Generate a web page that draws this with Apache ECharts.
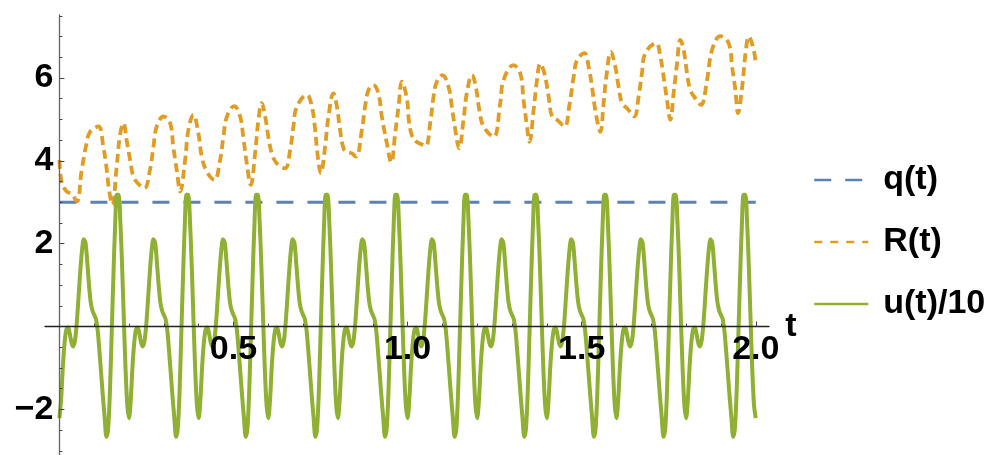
<!DOCTYPE html>
<html><head><meta charset="utf-8">
<script src="https://cdn.jsdelivr.net/npm/echarts@6/dist/echarts.min.js"></script>
<style>html,body{margin:0;padding:0;background:#fff}#c{width:992px;height:455px}</style>
</head><body><div id="c"></div>
<script>
// ---- data ----
const seriesNames = ['q(t)', 'R(t)', 'u(t)/10'];
const xMajorTicks = [0.5, 1.0, 1.5, 2.0];
const xMinorTicks = [0.1,0.2,0.3,0.4,0.6,0.7,0.8,0.9,1.1,1.2,1.3,1.4,1.6,1.7,1.8,1.9];
const yMajorTicks = [-2, 2, 4, 6];
const yMinorTicks = [-3,-2.5,-1.5,-1,-0.5,0.5,1,1.5,2.5,3,3.5,4.5,5,5.5,6.5,7,7.5];

const qT = [0, 2.0];
const qV = [3, 3];

const rT = [0.000,0.007,0.021,0.035,0.050,0.064,0.078,0.088,0.112,0.126,0.136,0.1425,0.152,0.1645,0.174,0.184,0.193,0.203,0.2125,0.225,
0.244,0.260,0.270,0.2795,0.299,0.318,0.327,0.337,0.347,0.361,0.3705,0.385,0.399,0.409,0.423,0.445,0.4615,0.471,0.481,0.502,
0.519,0.528,0.538,0.5497,0.562,0.5716,0.581,0.591,0.600,0.610,0.624,0.648,0.6626,0.672,0.682,0.7106,0.725,0.7345,0.741,0.751,
0.763,0.7727,0.787,0.797,0.806,0.816,0.8256,0.840,0.852,0.8687,0.878,0.8877,0.902,0.916,0.926,0.9405,0.953,0.9644,0.974,0.9836,
0.998,1.004,1.012,1.022,1.040,1.052,1.065,1.0745,1.084,1.100,1.1175,1.127,1.137,1.148,1.1606,1.170,1.185,1.196,1.206,1.218,
1.247,1.266,1.2756,1.304,1.3236,1.333,1.343,1.350,1.362,1.3716,1.381,1.393,1.405,1.4147,1.429,1.451,1.464,1.477,1.4865,1.508,
1.520,1.5296,1.536,1.544,1.5535,1.563,1.5707,1.584,1.5966,1.606,1.6158,1.630,1.651,1.6635,1.673,1.6828,1.714,1.726,1.7353,1.745,
1.7546,1.764,1.7738,1.7833,1.793,1.8026,1.812,1.8264,1.8428,1.860,1.8745,1.898,1.922,1.932,1.9414,1.949,1.961,1.9707,1.980,1.994,2.000];
const rV = [4.02,3.46,3.26,3.20,3.02,3.78,4.42,4.70,4.83,4.34,3.78,3.30,2.94,3.86,4.62,4.91,4.50,4.02,3.62,3.46,
3.34,3.78,4.34,4.83,5.07,4.91,4.34,3.78,3.26,4.02,4.75,5.11,4.67,4.10,3.74,3.54,4.02,4.58,5.07,5.32,
5.07,4.58,3.94,3.42,4.18,4.99,5.39,5.07,4.58,4.18,3.94,3.82,4.26,4.83,5.31,5.59,5.31,4.75,4.18,3.70,
4.34,5.07,5.63,5.31,4.75,4.30,4.22,4.18,4.10,4.75,5.31,5.71,5.83,5.63,5.07,4.42,3.96,4.67,5.31,5.91,
5.50,4.95,4.62,4.48,4.40,4.36,4.91,5.55,5.91,6.07,5.79,5.31,4.75,4.30,4.99,5.63,6.07,5.79,5.23,4.83,
4.58,5.39,5.95,6.31,6.11,5.47,4.83,4.46,5.23,5.95,6.35,6.11,5.55,5.07,4.99,4.83,5.31,6.03,6.43,6.60,
6.27,5.79,5.39,4.99,4.70,5.39,6.03,6.63,6.27,5.79,5.39,5.27,5.07,5.55,6.11,6.60,6.84,6.51,6.03,5.47,
4.99,5.63,6.35,6.92,6.68,6.11,5.71,5.51,5.35,5.95,6.68,7.01,6.84,6.27,5.71,5.15,5.79,6.60,7.00,6.68,6.35];

// u(t)/10 sampled every 0.005 from t = 0 to t = 2.0
const uT0 = 0, uDt = 0.005;
const uV = [
-2.21,-1.75,-0.95,-0.38,-0.07,-0.02,-0.18,-0.40,-0.48,-0.32,0.11,0.72,1.35,1.85,2.11,2.02,1.55,1.00,0.58,0.38,0.28,0.18,-0.10,-0.60,-1.15,-1.70,-2.20,-2.66,-2.46,-1.58,-0.20,1.21,2.43,3.18,3.18,2.54,1.47,0.18,-1.04,-1.90,
-2.21,-1.75,-0.95,-0.38,-0.07,-0.02,-0.18,-0.40,-0.48,-0.32,0.11,0.72,1.35,1.85,2.11,2.02,1.55,1.00,0.58,0.38,0.28,0.18,-0.10,-0.60,-1.15,-1.70,-2.20,-2.66,-2.46,-1.58,-0.20,1.21,2.43,3.18,3.18,2.54,1.47,0.18,-1.04,-1.90,
-2.21,-1.75,-0.95,-0.38,-0.07,-0.02,-0.18,-0.40,-0.48,-0.32,0.11,0.72,1.35,1.85,2.11,2.02,1.55,1.00,0.58,0.38,0.28,0.18,-0.10,-0.60,-1.15,-1.70,-2.20,-2.66,-2.46,-1.58,-0.20,1.21,2.43,3.18,3.18,2.54,1.47,0.18,-1.04,-1.90,
-2.21,-1.75,-0.95,-0.38,-0.07,-0.02,-0.18,-0.40,-0.48,-0.32,0.11,0.72,1.35,1.85,2.11,2.02,1.55,1.00,0.58,0.38,0.28,0.18,-0.10,-0.60,-1.15,-1.70,-2.20,-2.66,-2.46,-1.58,-0.20,1.21,2.43,3.18,3.18,2.54,1.47,0.18,-1.04,-1.90,
-2.21,-1.75,-0.95,-0.38,-0.07,-0.02,-0.18,-0.40,-0.48,-0.32,0.11,0.72,1.35,1.85,2.11,2.02,1.55,1.00,0.58,0.38,0.28,0.18,-0.10,-0.60,-1.15,-1.70,-2.20,-2.66,-2.46,-1.58,-0.20,1.21,2.43,3.18,3.18,2.54,1.47,0.18,-1.04,-1.90,
-2.21,-1.75,-0.95,-0.38,-0.07,-0.02,-0.18,-0.40,-0.48,-0.32,0.11,0.72,1.35,1.85,2.11,2.02,1.55,1.00,0.58,0.38,0.28,0.18,-0.10,-0.60,-1.15,-1.70,-2.20,-2.66,-2.46,-1.58,-0.20,1.21,2.43,3.18,3.18,2.54,1.47,0.18,-1.04,-1.90,
-2.21,-1.75,-0.95,-0.38,-0.07,-0.02,-0.18,-0.40,-0.48,-0.32,0.11,0.72,1.35,1.85,2.11,2.02,1.55,1.00,0.58,0.38,0.28,0.18,-0.10,-0.60,-1.15,-1.70,-2.20,-2.66,-2.46,-1.58,-0.20,1.21,2.43,3.18,3.18,2.54,1.47,0.18,-1.04,-1.90,
-2.21,-1.75,-0.95,-0.38,-0.07,-0.02,-0.18,-0.40,-0.48,-0.32,0.11,0.72,1.35,1.85,2.11,2.02,1.55,1.00,0.58,0.38,0.28,0.18,-0.10,-0.60,-1.15,-1.70,-2.20,-2.66,-2.46,-1.58,-0.20,1.21,2.43,3.18,3.18,2.54,1.47,0.18,-1.04,-1.90,
-2.21,-1.75,-0.95,-0.38,-0.07,-0.02,-0.18,-0.40,-0.48,-0.32,0.11,0.72,1.35,1.85,2.11,2.02,1.55,1.00,0.58,0.38,0.28,0.18,-0.10,-0.60,-1.15,-1.70,-2.20,-2.66,-2.46,-1.58,-0.20,1.21,2.43,3.18,3.18,2.54,1.47,0.18,-1.04,-1.90,
-2.21,-1.75,-0.95,-0.38,-0.07,-0.02,-0.18,-0.40,-0.48,-0.32,0.11,0.72,1.35,1.85,2.11,2.02,1.55,1.00,0.58,0.38,0.28,0.18,-0.10,-0.60,-1.15,-1.70,-2.20,-2.66,-2.46,-1.58,-0.20,1.21,2.43,3.18,3.18,2.54,1.47,0.18,-1.04,-1.90,
-2.21];

// ---- build ----
const zip = (ts, vs) => ts.map((t, i) => [t, vs[i]]);
const uData = uV.map((v, i) => [+(uT0 + i * uDt).toFixed(4), v]);

const FONT = 'Liberation Sans, Arial, sans-serif';
const AX = '#444';
const X_MIN = -0.0414, X_MAX = 2.038, Y_MIN = -3.1, Y_MAX = 7.52;
const GRID = {left: 45, top: 15, width: 724, height: 440};
// place the axes through the origin (t = 0, value = 0) like the original
const xAxisOffset = -((0 - Y_MIN) / (Y_MAX - Y_MIN)) * GRID.height;
const yAxisOffset = -((0 - X_MIN) / (X_MAX - X_MIN)) * GRID.width;
const fmtY = v => (v < 0 ? '\u2212' + Math.abs(v) : String(v));

const chart = echarts.init(document.getElementById('c'), null, {renderer: 'canvas'});
chart.setOption({
  animation: false,
  backgroundColor: '#fff',
  grid: Object.assign({containLabel: false, outerBoundsMode: 'none'}, GRID),
  xAxis: [
    {type: 'value', min: X_MIN, max: X_MAX, position: 'bottom', offset: xAxisOffset, z: 10,
     axisLine: {show: true, onZero: false, lineStyle: {color: '#222', width: 1.3}},
     axisTick: {show: true, inside: true, length: 5, customValues: xMajorTicks, lineStyle: {color: AX, width: 1}},
     axisLabel: {show: true, customValues: xMajorTicks, margin: 6, formatter: v => v.toFixed(1),
       fontFamily: FONT, fontWeight: 'bold', fontSize: 34, color: '#000'},
     splitLine: {show: false},
     name: 't', nameLocation: 'end', nameGap: 13,
     nameTextStyle: {fontFamily: FONT, fontWeight: 'bold', fontSize: 34, color: '#000'}},
    {type: 'value', min: X_MIN, max: X_MAX, position: 'bottom', offset: xAxisOffset, z: 10,
     axisLine: {show: false, onZero: false},
     axisTick: {show: true, inside: true, length: 3, customValues: xMinorTicks, lineStyle: {color: AX, width: 1}},
     axisLabel: {show: false}, splitLine: {show: false}}
  ],
  yAxis: [
    {type: 'value', min: Y_MIN, max: Y_MAX, position: 'left', offset: yAxisOffset, z: 10,
     axisLine: {show: true, onZero: false, lineStyle: {color: '#666', width: 1.3}},
     axisTick: {show: true, inside: true, length: 5, customValues: yMajorTicks, lineStyle: {color: AX, width: 1}},
     axisLabel: {show: true, customValues: yMajorTicks, margin: 6, formatter: fmtY,
       fontFamily: FONT, fontWeight: 'bold', fontSize: 34, color: '#000'},
     splitLine: {show: false}},
    {type: 'value', min: Y_MIN, max: Y_MAX, position: 'left', offset: yAxisOffset, z: 10,
     axisLine: {show: false, onZero: false},
     axisTick: {show: true, inside: true, length: 3, customValues: yMinorTicks, lineStyle: {color: AX, width: 1}},
     axisLabel: {show: false}, splitLine: {show: false}}
  ],
  legend: {
    orient: 'vertical', left: 813, top: 163, padding: 0,
    itemWidth: 54, itemHeight: 14, itemGap: 28,
    data: [
      {name: seriesNames[0]},
      {name: seriesNames[1], lineStyle: {type: [8, 8], width: 2.5}},
      {name: seriesNames[2]}
    ],
    lineStyle: {width: 2.5},
    itemStyle: {color: 'rgba(0,0,0,0)', borderWidth: 0, opacity: 0},
    textStyle: {fontFamily: FONT, fontWeight: 'bold', fontSize: 34, color: '#000', lineHeight: 34, padding: [0, 0, 0, 10]}
  },
  series: [
    {name: seriesNames[0], type: 'line', data: zip(qT, qV), showSymbol: false, symbol: 'none',
     lineStyle: {color: '#5E81B5', width: 3, type: [17, 14], cap: 'butt'}, itemStyle: {color: '#5E81B5'}, z: 2},
    {name: seriesNames[1], type: 'line', data: zip(rT, rV), showSymbol: false, symbol: 'none', smooth: 0.4,
     lineStyle: {color: '#E19C24', width: 3.8, type: [9, 5], cap: 'butt', join: 'round'}, itemStyle: {color: '#E19C24'}, z: 3},
    {name: seriesNames[2], type: 'line', data: uData, showSymbol: false, symbol: 'none', smooth: 0.3,
     lineStyle: {color: '#8FB032', width: 4, join: 'round'}, itemStyle: {color: '#8FB032'}, z: 4}
  ]
});
</script></body></html>
